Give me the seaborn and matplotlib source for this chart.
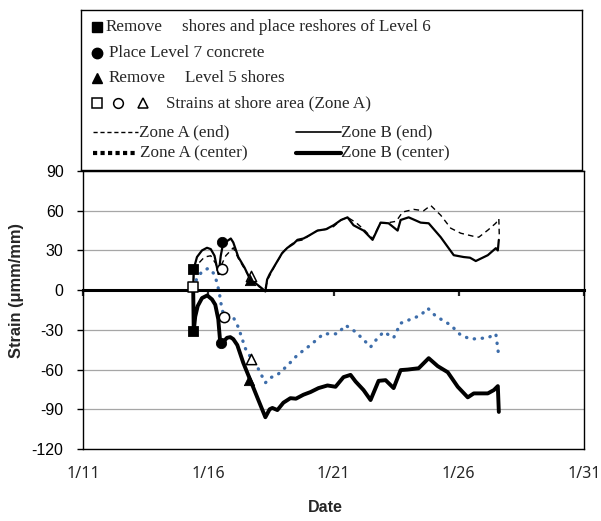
import numpy as np
import pandas as pd
import seaborn as sns
import matplotlib.pyplot as plt

# x values are days of January
zone_b_end_day = [15.4, 15.42, 15.55, 15.75, 15.95, 16.1, 16.25, 16.36, 16.42, 16.5, 16.6, 16.75,
                  16.9, 17.0, 17.2, 17.45, 17.65, 17.9, 18.1, 18.28, 18.35, 18.45, 18.7, 18.95,
                  19.16, 19.4, 19.56, 19.8, 20.0, 20.36, 20.7, 21.0, 21.3, 21.56, 21.8, 22.2,
                  22.56, 22.88, 23.2, 23.56, 23.68, 24.0, 24.48, 24.8, 25.28, 25.8, 26.2, 26.45,
                  26.68, 27.16, 27.48, 27.56, 27.6]
zone_b_end = [0, 16, 25, 30, 32, 31, 26, 16, 13, 26, 36, 37,
              39, 36, 25, 17, 9, 5, 2, -1, 8, 12, 20, 28,
              32, 35, 38, 39, 41, 45, 46, 49, 53, 55, 49, 45,
              38, 51, 50.5, 45, 53, 55, 51, 50.5, 40, 26.4, 25, 24.5,
              22, 26.4, 31.7, 30, 38]

zone_a_end_day = [15.4, 15.42, 15.6, 15.85, 16.1, 16.3, 16.42, 16.5, 16.7, 17.0, 17.2, 17.45,
                  17.7, 18.0, 18.25, 18.4, 18.7, 19.0, 19.2, 19.5, 19.8, 20.0, 20.36, 20.7,
                  21.0, 21.3, 21.56, 21.9, 22.2, 22.56, 22.88, 23.2, 23.5, 23.76, 24.2, 24.6,
                  24.88, 25.28, 25.68, 26.08, 26.56, 26.8, 27.16, 27.48, 27.6, 27.62]
zone_a_end = [0, 13, 20, 25, 26, 20, 10, 18, 26, 32, 24, 16,
              8, 3, 0, 9, 20, 29, 33, 37, 38, 41, 45, 46,
              48, 53, 55, 51, 46, 39, 51, 51, 52, 59, 61, 60,
              64, 56.6, 46.8, 43, 40.8, 40, 45.3, 50.6, 54, 40]

zone_a_center_day = [15.4, 15.55, 15.75, 16.0, 16.2, 16.35, 16.45, 16.55, 16.65, 16.96, 17.2, 17.48,
                     17.7, 17.96, 18.28, 18.5, 18.76, 19.16, 19.56, 20.08, 20.6, 21.16, 21.48, 21.88,
                     22.28, 22.48, 22.68, 23.0, 23.4, 23.68, 24.08, 24.48, 24.76, 25.08, 25.68, 26.08,
                     26.48, 27.16, 27.48, 27.6]
zone_a_center = [2, 9, 14, 16.5, 13, 6, -3, -15, -19, -19, -28, -44,
                 -51, -58, -70, -66, -64, -57, -49, -41.5, -33, -33, -26.5, -31.5,
                 -39, -43, -38, -31.5, -36, -25, -22, -19, -13.6, -19.6, -26.4, -34,
                 -37, -36, -33, -50]

zone_b_center_day = [15.4, 15.42, 15.48, 15.58, 15.75, 15.96, 16.15, 16.28, 16.4, 16.48, 16.6, 16.75,
                     16.88, 17.0, 17.16, 17.4, 17.68, 18.0, 18.28, 18.45, 18.56, 18.76, 19.0, 19.28,
                     19.5, 19.8, 20.08, 20.4, 20.76, 21.08, 21.4, 21.68, 21.88, 22.2, 22.48, 22.8,
                     23.08, 23.4, 23.68, 23.96, 24.4, 24.8, 25.16, 25.56, 25.96, 26.36, 26.6, 27.16,
                     27.4, 27.56, 27.6]
zone_b_center = [0, -31, -20, -12, -6, -4, -7, -11, -22, -40, -39, -36,
                 -35.5, -37, -41.5, -55, -68, -83, -96, -90, -89, -90.6, -85, -81.6,
                 -82, -79, -77, -74, -72, -73, -65.7, -64, -69, -75.5, -83, -68.5,
                 -68, -74, -60.4, -60, -59, -51.4, -57.4, -62, -73, -81, -78, -78,
                 -75.5, -72.5, -92]

# event markers
sq_fill_day, sq_fill = [15.4, 15.4], [16, -31]
sq_open_day, sq_open = [15.4], [2]
ci_fill_day, ci_fill = [16.55, 16.52], [36, -40]
ci_open_day, ci_open = [16.55, 16.61], [16, -20]
tr_open_day, tr_open = [17.7, 17.72], [11, -52]
tr_fill_day, tr_fill = [17.65, 17.64], [7.5, -68]

x_ticks = [11, 16, 21, 26, 31]
x_labels = ['1/11', '1/16', '1/21', '1/26', '1/31']
y_ticks = [-120, -90, -60, -30, 0, 30, 60, 90]

sns.set_style('white')
plt.rcParams['font.family'] = ['Liberation Sans', 'DejaVu Sans']

W, H = 601, 521
fig = plt.figure(figsize=(W / 100, H / 100), dpi=100)
ax = fig.add_axes([83 / W, 72 / H, 501 / W, 278 / H])

blue = '#3D6DAA'
sns.lineplot(x=zone_a_end_day, y=zone_a_end, ax=ax, estimator=None, sort=False,
             color='black', lw=1.0, linestyle=(0, (4, 3)))
sns.lineplot(x=zone_b_end_day, y=zone_b_end, ax=ax, estimator=None, sort=False,
             color='black', lw=1.6)
sns.lineplot(x=zone_a_center_day, y=zone_a_center, ax=ax, estimator=None, sort=False,
             color=blue, lw=2.4, linestyle=(0, (0.1, 2.3)), dash_capstyle='round')
sns.lineplot(x=zone_b_center_day, y=zone_b_center, ax=ax, estimator=None, sort=False,
             color='black', lw=2.8, solid_joinstyle='round')

mk = dict(ax=ax, s=55, zorder=5, legend=False)
sns.scatterplot(x=sq_fill_day, y=sq_fill, marker='s', color='black', edgecolor='black', **mk)
sns.scatterplot(x=sq_open_day, y=sq_open, marker='s', color='white', edgecolor='black', linewidth=1.1, **mk)
sns.scatterplot(x=ci_fill_day, y=ci_fill, marker='o', color='black', edgecolor='black', **mk)
sns.scatterplot(x=ci_open_day, y=ci_open, marker='o', color='white', edgecolor='black', linewidth=1.1, **mk)
sns.scatterplot(x=tr_open_day, y=tr_open, marker='^', color='white', edgecolor='black', linewidth=1.1, **mk)
sns.scatterplot(x=tr_fill_day, y=tr_fill, marker='^', color='black', edgecolor='black', **mk)

ax.set_xlim(11, 31)
ax.set_ylim(-120, 90)
ax.set_yticks(y_ticks)
ax.set_yticklabels([str(v) for v in y_ticks], fontsize=11.5)
ax.yaxis.grid(True, color='#A6A6A6', lw=0.9)
ax.set_axisbelow(True)
ax.tick_params(axis='y', direction='out', length=4, width=1, pad=10, left=True, colors='black')

# zero line acts as the horizontal axis
ax.set_xticks(x_ticks)
ax.spines['bottom'].set_position(('data', 0))
ax.spines['bottom'].set_linewidth(2.2)
ax.tick_params(axis='x', direction='out', length=4, width=1.6, labelbottom=False, bottom=True)
for side in ['left', 'right', 'top', 'bottom']:
    ax.spines[side].set_color('black')
for side in ['left', 'right', 'top']:
    ax.spines[side].set_linewidth(1)

sec = ax.secondary_xaxis('bottom')
sec.set_xticks(x_ticks)
sec.set_xticklabels(x_labels, fontsize=11.5, family=['Noto Sans', 'DejaVu Sans'])
sec.tick_params(length=0, pad=12)
sec.spines['bottom'].set_color('black')
sec.spines['bottom'].set_linewidth(1)

ax.set_xlabel('')
ax.set_ylabel('')
fig.text(325 / W, 1 - 507 / H, 'Date', ha='center', va='center', fontsize=11.5, fontweight='bold')
fig.text(17 / W, 1 - 291 / H, 'Strain (\u03bcmm/mm)', ha='center', va='center', rotation=90,
         fontsize=11.8, fontweight='bold')

# legend box drawn in pixel coordinates
lax = fig.add_axes([81 / W, (H - 170) / H, 501 / W, 160 / H])
lax.set_xlim(81, 582)
lax.set_ylim(170, 10)
lax.set_xticks([])
lax.set_yticks([])
for side in lax.spines.values():
    side.set_color('black')
    side.set_linewidth(1)

serif = dict(family=['Liberation Serif', 'DejaVu Serif'], fontsize=12.3, va='center', ha='left')
lax.plot([97], [27], marker='s', ms=7, color='black', ls='none')
lax.text(106, 27, 'Remove', **serif)
lax.text(182, 27, 'shores and place reshores of Level 6', **serif)
lax.plot([97], [53], marker='o', ms=7.5, color='black', ls='none')
lax.text(109, 53, 'Place Level 7 concrete', **serif)
lax.plot([97], [78], marker='^', ms=7, color='black', ls='none')
lax.text(109, 78, 'Remove', **serif)
lax.text(185, 78, 'Level 5 shores', **serif)
for px_, m in [(97, 's'), (118, 'o'), (143, '^')]:
    lax.plot([px_], [103], marker=m, ms=7, mfc='white', mec='black', mew=1.1, ls='none')
lax.text(166, 103, 'Strains at shore area (Zone A)', **serif)
lax.plot([93, 138], [132, 132], color='black', lw=1, ls=(0, (3, 2)))
lax.text(139, 132, 'Zone A (end)', **serif)
lax.plot([296, 341], [132, 132], color='black', lw=1.2)
lax.text(341, 132, 'Zone B (end)', **serif)
lax.plot([93, 138], [153, 153], color='black', lw=3, ls=(0, (1, 0.8)))
lax.text(140, 153, 'Zone A (center)', **serif)
lax.plot([296, 341], [153, 153], color='black', lw=3)
lax.text(341, 153, 'Zone B (center)', **serif)

fig.savefig('out.png', dpi=100)
